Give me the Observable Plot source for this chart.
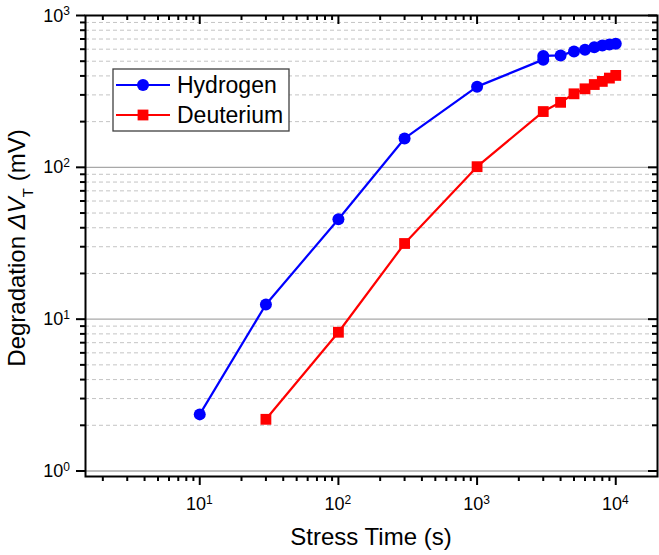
<!DOCTYPE html>
<html><head><meta charset="utf-8">
<script src="https://cdn.jsdelivr.net/npm/d3@7"></script>
<script src="https://cdn.jsdelivr.net/npm/@observablehq/plot@0.6"></script>
<style>
body{margin:0;background:#fff}
#chart{position:relative;width:659px;height:555px}
</style>
</head><body><div id="chart"></div>
<script>
// ---- data ----
const seriesNames = ["Hydrogen", "Deuterium"];
const seriesColors = ["#0000ff", "#ff0000"];
const hydrogenTime = [10, 30, 100, 300, 1000, 3000, 3000, 4000, 5000, 6000, 7000, 8000, 9000, 10000];
const hydrogenDeg  = [2.36, 12.5, 45.5, 155, 340, 512, 542, 546, 580, 594, 618, 634, 644, 652];
const deuteriumTime = [30, 100, 300, 1000, 3000, 4000, 5000, 6000, 7000, 8000, 9000, 10000];
const deuteriumDeg  = [2.19, 8.2, 31.5, 101, 233, 268, 305, 329, 351, 368, 387, 403];
const xTickValues = [10, 100, 1000, 10000];
const yTickValues = [1, 10, 100, 1000];
const xTitle = "Stress Time (s)";

// ---- layout ----
const W = 659, H = 555, mL = 85, mR = 2, mT = 15, mB = 79;
const innerW = W - mL - mR, innerH = H - mT - mB;
const xDomain = [1.5, 2e4], yDomain = [0.92, 1000];

const minorOf = (lo, hi) => {
  const out = [];
  for (let e = -1; e <= 5; e++) for (let k = 2; k <= 9; k++) {
    const v = k * Math.pow(10, e);
    if (v > lo && v < hi) out.push(v);
  }
  return out;
};
const xMinor = minorOf(xDomain[0] * 0.999, xDomain[1] * 0.999);
const yMinor = minorOf(yDomain[0], yDomain[1]);

const hData = hydrogenTime.map((t, i) => ({t, v: hydrogenDeg[i]}));
const dData = deuteriumTime.map((t, i) => ({t, v: deuteriumDeg[i]}));

const plot = Plot.plot({
  width: W, height: H,
  marginLeft: mL, marginRight: mR, marginTop: mT, marginBottom: mB,
  style: {fontFamily: "'Liberation Sans', Arial, sans-serif", background: "white", color: "black", overflow: "visible"},
  x: {type: "log", domain: xDomain},
  y: {type: "log", domain: yDomain},
  marks: [
    Plot.ruleY(yMinor, {stroke: "#c4c4c4", strokeWidth: 1, strokeDasharray: "4,3"}),
    Plot.ruleY(yTickValues.filter(v => v < 1000), {stroke: "#a8a8a8", strokeWidth: 1.3}),
    Plot.line(hData, {x: "t", y: "v", stroke: seriesColors[0], strokeWidth: 2.2}),
    Plot.dot(hData, {x: "t", y: "v", r: 6, fill: seriesColors[0], symbol: "circle"}),
    Plot.line(dData, {x: "t", y: "v", stroke: seriesColors[1], strokeWidth: 2.2}),
    Plot.dot(dData, {x: "t", y: "v", r: 6.1, fill: seriesColors[1], symbol: "square"}),
    Plot.frame({stroke: "black", strokeWidth: 2}),
    Plot.axisX(xTickValues, {tickSize: 9, tickFormat: () => "", strokeWidth: 2, label: null}),
    Plot.axisX(xMinor, {tickSize: 5, tickFormat: () => "", strokeWidth: 2, label: null}),
    Plot.axisY(yTickValues, {tickSize: 9, tickFormat: () => "", strokeWidth: 2, label: null}),
    Plot.axisY(yMinor, {tickSize: 5, tickFormat: () => "", strokeWidth: 2, label: null}),
    // inward mirror ticks on top and right
    Plot.ruleX(xTickValues, {insetBottom: innerH - 9, strokeWidth: 2}),
    Plot.ruleX(xMinor, {insetBottom: innerH - 5, strokeWidth: 2}),
    Plot.ruleY(yTickValues, {insetLeft: innerW - 9, strokeWidth: 2}),
    Plot.ruleY(yMinor, {insetLeft: innerW - 5, strokeWidth: 2})
  ]
});

const svg = d3.select(plot);
const sx = plot.scale("x"), sy = plot.scale("y");
const FF = "'Liberation Sans', Arial, sans-serif";

// tick labels with superscript exponents, positioned with Plot's scales
const addPow = (g, v, x, y, anchor) => {
  const t = g.append("text").attr("x", x).attr("y", y).attr("text-anchor", anchor)
    .attr("font-family", FF).attr("font-size", 18).attr("fill", "black");
  t.append("tspan").attr("font-size", 18).text("10");
  t.append("tspan").attr("font-size", 12).attr("dy", -6.5).text(String(Math.round(Math.log10(v))));
};
const tl = svg.append("g");
xTickValues.forEach(v => addPow(tl, v, sx.apply(v), 510, "middle"));
yTickValues.forEach(v => addPow(tl, v, mL - 15, sy.apply(v) + 6.5, "end"));

// axis titles
svg.append("text")
  .attr("x", (mL + W - mR) / 2).attr("y", 545)
  .attr("text-anchor", "middle").attr("font-family", FF).attr("font-size", 24).attr("fill", "black")
  .text(xTitle);

const yt = svg.append("text")
  .attr("transform", "translate(25,248) rotate(-90)")
  .attr("text-anchor", "middle").attr("font-family", FF).attr("font-size", 24).attr("fill", "black");
yt.append("tspan").text("Degradation ");
yt.append("tspan").attr("font-style", "italic").text("ΔV");
yt.append("tspan").attr("font-size", 15).attr("dy", 8).text("T");
yt.append("tspan").attr("dy", -8).text(" (mV)");

// legend
const lg = svg.append("g");
lg.append("rect").attr("x", 113).attr("y", 69).attr("width", 176).attr("height", 62)
  .attr("fill", "white").attr("stroke", "#404040").attr("stroke-width", 1.3);
seriesNames.forEach((name, i) => {
  const cy = 85 + i * 30;
  lg.append("line").attr("x1", 116).attr("x2", 170).attr("y1", cy).attr("y2", cy)
    .attr("stroke", seriesColors[i]).attr("stroke-width", 2.2);
  if (i === 0) lg.append("circle").attr("cx", 143).attr("cy", cy).attr("r", 6).attr("fill", seriesColors[i]);
  else lg.append("rect").attr("x", 143 - 5.4).attr("y", cy - 5.4).attr("width", 10.8).attr("height", 10.8).attr("fill", seriesColors[i]);
  lg.append("text").attr("x", 177).attr("y", cy).attr("dy", "0.36em").attr("text-anchor", "start")
    .attr("font-family", FF).attr("font-size", 23).attr("fill", "black").text(name);
});

document.getElementById("chart").appendChild(plot);
</script>
</body></html>
